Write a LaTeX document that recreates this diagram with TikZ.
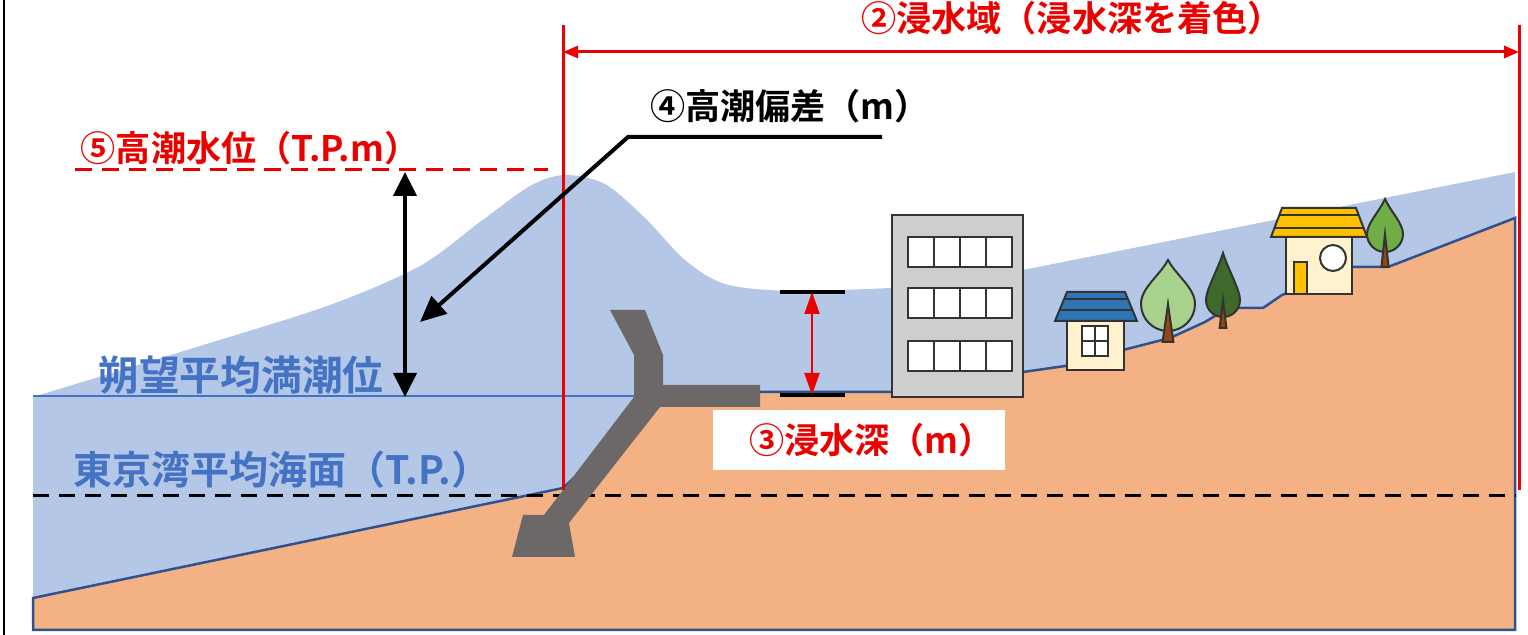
\documentclass[tikz,border=0pt]{standalone}
\usepackage{fontspec}
\newfontfamily\jpfont{Noto Sans CJK JP Bold}
\usepackage{tikz}
\usetikzlibrary{arrows.meta,positioning,calc}
\definecolor{seablue}{RGB}{180,199,231}
\definecolor{landorange}{RGB}{244,177,131}
\definecolor{edgeblue}{RGB}{47,82,143}
\definecolor{labelblue}{RGB}{68,114,196}
\definecolor{markred}{RGB}{235,0,0}
\definecolor{wallgray}{RGB}{108,104,104}
\definecolor{bldggray}{RGB}{208,206,206}
\definecolor{wallcream}{RGB}{255,242,204}
\definecolor{roofblue}{RGB}{46,117,182}
\definecolor{roofyellow}{RGB}{255,192,0}
\definecolor{leaflight}{RGB}{169,209,142}
\definecolor{leafmid}{RGB}{112,173,71}
\definecolor{leafdark}{RGB}{62,105,42}
\definecolor{trunkbrown}{RGB}{150,70,20}
\tikzset{
  lbl/.style={inner sep=0pt, font=\jpfont\fontsize{10pt}{12pt}\selectfont},
  redlbl/.style={lbl, text=markred},
  blacklbl/.style={lbl, text=black},
  bluelbl/.style={inner sep=0pt, text=labelblue, font=\jpfont\fontsize{11.6pt}{13pt}\selectfont},
  depthbox/.style={redlbl, fill=white, minimum width=29.2mm, minimum height=6mm},
  outline/.style={draw=black!80, line width=0.2mm},
  land/.style={fill=landorange, draw=edgeblue, line width=0.25mm},
  datum/.style={black, line width=0.3mm, dash pattern=on 1.6mm off 1mm},
  surge/.style={markred, line width=0.3mm, dash pattern=on 1.7mm off 1mm},
  dimline/.style={markred, line width=0.3mm},
  hgt/.style={black, line width=0.4mm, {Triangle[length=2.4mm,width=2.3mm]}-{Triangle[length=2.4mm,width=2.3mm]}},
  leader/.style={black, line width=0.4mm, -{Triangle[length=2.6mm,width=2.3mm]}}
}
% leaf-shaped tree: centre x, centre y, radius, tip y, trunk base y, leaf colour
\newcommand{\leaftree}[6]{%
  \draw[outline, fill=#6] (#1,#4) .. controls ({#1+0.3*#3},{#4+0.35*(#2-#4)}) and ({#1+#3},{#2-0.6*#3}) .. ({#1+#3},#2)
    arc[start angle=0, end angle=180, radius=#3]
    .. controls ({#1-#3},{#2-0.6*#3}) and ({#1-0.3*#3},{#4+0.35*(#2-#4)}) .. (#1,#4) -- cycle;
  \draw[outline, fill=trunkbrown] ({#1-0.2*#3},#5) -- ({#1+0.2*#3},#5) -- (#1,#2) -- cycle;
}

\begin{document}
\begin{tikzpicture}[x=0.1mm, y=-0.1mm]
    \useasboundingbox (0,0) rectangle (1528,635);
    \fill[white] (0,0) rectangle (1528,635);
    \draw[line width=0.3mm] (4,0) -- (4,635);
    % Sea with storm surge
    \fill[seablue] (33,630) -- plot[smooth] coordinates {(33,397) (200,346) (330,305) (420,266) (480,222) (530,186) (565,175) (605,184) (645,218) (685,260) (725,284) (790,291) (890,288)}
      -- (1023,270) -- (1515,172) -- (1515,630) -- cycle;
    \draw[labelblue, line width=0.15mm] (33,396) -- (640,396);
    % Land
    \filldraw[land] (33,598) -- (563,488) -- (650,407) -- (760,392) -- (892,392) -- (1023,372) -- (1065,366)
      -- (1123,350) -- (1170,338) -- (1205,322) -- (1228,308) -- (1263,308) -- (1282,295) -- (1350,267)
      -- (1388,267) -- (1515,218) -- (1515,630) -- (33,630) -- cycle;
    % T.P. datum
    \draw[datum] (33,496) -- (1515,496);
    % Seawall
    \fill[wallgray] (610,310) -- (645,310) -- (663,355) -- (663,385) -- (760,385) -- (760,407) -- (660,407)
      -- (569,523) -- (575,557) -- (512,557) -- (523,515) -- (544,515) -- (634,397) -- (634,355) -- cycle;
    % Building
    \draw[outline, fill=bldggray] (892,215) rectangle (1023,397);
    \foreach \row in {237,288,341}
      \foreach \col in {908,934,960,986}
        \draw[outline, fill=white] (\col,\row) rectangle ++(26,30);
    % Blue house
    \draw[outline, fill=roofblue] (1067,292) -- (1125,292) -- (1137,321) -- (1055,321) -- cycle;
    \draw[outline] (1064,299) -- (1128,299) (1060,310) -- (1132,310);
    \draw[outline, fill=wallcream] (1067,321) rectangle (1124,370);
    \draw[outline, fill=white] (1082,326) rectangle (1108,356);
    \draw[outline] (1095,326) -- (1095,356) (1082,341) -- (1108,341);
    % Yellow house
    \draw[outline, fill=roofyellow] (1282,208) -- (1356,208) -- (1367,237) -- (1271,237) -- cycle;
    \draw[outline] (1279,215) -- (1359,215) (1274,228) -- (1364,228);
    \draw[outline, fill=wallcream] (1286,237) rectangle (1352,294);
    \draw[outline, fill=roofyellow] (1294,262) rectangle (1307,294);
    \draw[outline, fill=white] (1333,258) circle[radius=13];
    % Trees
    \leaftree{1168}{304}{27}{260}{342}{leaflight}
    \leaftree{1223}{300}{17}{253}{328}{leafdark}
    \leaftree{1385}{234}{18}{199}{267}{leafmid}
    % Inundation area
    \coordinate (spanl) at (563,52);
    \coordinate (spanr) at (1519,52);
    \draw[dimline] (563,25) -- (563,490);
    \draw[dimline] (1519,25) -- (1519,490);
    \draw[dimline, {Triangle[length=1.5mm,width=1.2mm]}-{Triangle[length=1.5mm,width=1.2mm]}] (spanl) -- (spanr);
    \node[redlbl] (area) at (1072,18) {②浸水域（浸水深を着色）};
    % Surge level
    \draw[surge] (75,170) -- (548,170);
    \node[redlbl] (tidelvl) at (250,148) {⑤高潮水位（T.P.m）};
    \coordinate (hightop) at (405,172);
    \coordinate (highbot) at (405,397);
    \draw[hgt] (hightop) -- (highbot);
    % Surge anomaly
    \node[blacklbl] (anomaly) at (790,106) {④高潮偏差（m）};
    \coordinate (leadend) at (882,137);
    \coordinate (leadbend) at (628,137);
    \coordinate (leadtip) at (420,322);
    \draw[leader] (leadend) -- (leadbend) -- (leadtip);
    % Inundation depth
    \coordinate (deptop) at (812,292);
    \coordinate (depbot) at (812,395);
    \draw[line width=0.4mm] (780,292) -- (845,292) (780,395) -- (845,395);
    \draw[markred, line width=0.2mm, {Triangle[length=2.2mm,width=1.5mm]}-{Triangle[length=2.2mm,width=1.5mm]}] (deptop) -- (depbot);
    \node[depthbox] (depth) at (859,440) {\hspace*{2.5mm}③浸水深（m）};
    % Reference levels
    \node[bluelbl] (mhwl) at (241,375) {朔望平均満潮位};
    \node[bluelbl, font=\jpfont\fontsize{11.1pt}{13pt}\selectfont] (tp) at (282,470) {東京湾平均海面（T.P.）};
\end{tikzpicture}
\end{document}
